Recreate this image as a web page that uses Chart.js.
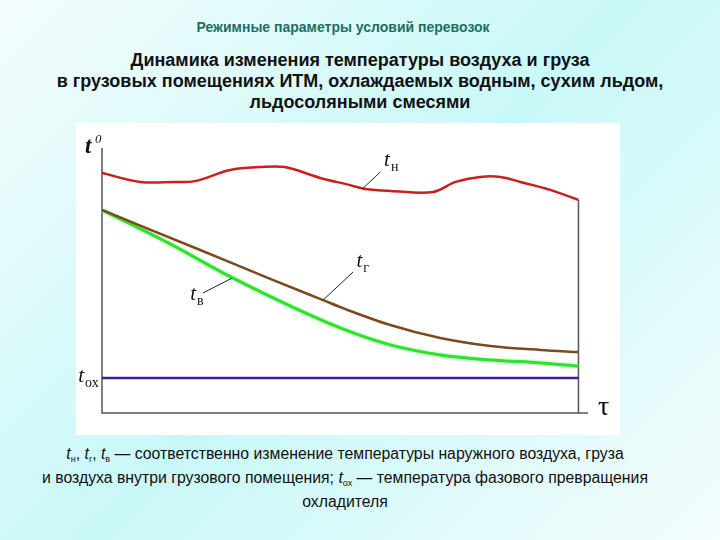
<!DOCTYPE html>
<html lang="ru">
<head>
<meta charset="utf-8">
<script src="https://cdn.jsdelivr.net/npm/chart.js@4.4.1/dist/chart.umd.min.js"></script>
<style>
  html, body { margin: 0; padding: 0; }
  body {
    width: 720px; height: 540px; position: relative; overflow: hidden;
    background: linear-gradient(135deg, #f5fdfd 0%, #c9f8f8 50%, #f5fdfd 100%);
    font-family: "Liberation Sans", Arial, sans-serif;
  }
  .txt { position: absolute; left: 0; width: 720px; text-align: center; white-space: nowrap; }
  #sub { top: 19px; left: -17px; font-size: 14px; font-weight: bold; color: #1d6f5f; }
  #title { top: 50px; font-size: 18px; font-weight: bold; color: #111; line-height: 21px; }
  #note { top: 442px; left: -15px; font-size: 15.8px; color: #111; line-height: 24px; }
  #note i { font-style: italic; }
  #note sub { font-size: 9px; vertical-align: -3px; line-height: 0; }
  #panel { position: absolute; left: 76px; top: 123px; width: 544px; height: 312px; background: #fff; }
</style>
</head>
<body>
<div class="txt" id="sub">Режимные параметры условий перевозок</div>
<div class="txt" id="title">Динамика изменения температуры воздуха и груза<br>в грузовых помещениях ИТМ, охлаждаемых водным, сухим льдом,<br>льдосоляными смесями</div>
<div id="panel"><canvas id="chart" width="544" height="312"></canvas></div>
<div class="txt" id="note"><i>t</i><sub>н</sub>, <i>t</i><sub>г</sub>, <i>t</i><sub>в</sub> — соответственно изменение температуры наружного воздуха, груза<br>и воздуха внутри грузового помещения; <i>t</i><sub>ох</sub> — температура фазового превращения<br>охладителя</div>
<script>
// time (tau) positions and temperatures
const tauN = [0, 8, 15.3, 19.5, 26.9, 33.2, 38.4, 45.8, 52.1, 55.3, 60.5, 69.5, 74.2, 79.4, 83.6, 87.8, 94.1, 100];
const tempN = [90.6, 87.2, 87.2, 87.5, 91.7, 92.8, 92.8, 88.7, 86.0, 84.5, 83.8, 83.4, 87.2, 89.1, 89.1, 87.2, 84.2, 80.4];

const tauG = [0, 20.6, 35.3, 46.4, 51.1, 60.5, 71, 81.5, 92, 100];
const tempG = [76.6, 61.5, 50.6, 42.6, 39.2, 33.2, 28.3, 25.3, 23.8, 23.0];

const tauV = [0, 14.3, 27.5, 50, 60.5, 71, 81.5, 92, 100];
const tempV = [76.6, 63.8, 50.9, 32.1, 25.7, 21.9, 20.0, 18.9, 17.7];

const tauOx = [0, 100];
const tempOx = [13.2, 13.2];

// right border of the process
const tauEnd = [100, 100];
const tempEnd = [80.4, 0];

// annotation labels: [tau, temp] of text, leader from/to
const labels = [
  { main: 't', sub: 'н', at: [59.2, 93.2], leader: [[54.6, 84.5], [58.4, 90.9]] },
  { main: 't', sub: 'г', at: [53.4, 55.1], leader: [[46.4, 42.6], [52.7, 53.2]] },
  { main: 't', sub: 'в', at: [18.5, 42.6], leader: [[27.3, 50.9], [21.2, 45.3]] },
  { main: 't', sub: 'ох', at: [-5.0, 11.7] },
];

const pts = (xs, ys) => xs.map((x, i) => ({ x, y: ys[i] }));

const axesPlugin = {
  id: 'axes',
  beforeDatasetsDraw(chart) {
    const { ctx, chartArea: a } = chart;
    ctx.save();
    ctx.strokeStyle = '#555';
    ctx.lineWidth = 1.5;
    ctx.beginPath();
    ctx.moveTo(a.left, a.top);
    ctx.lineTo(a.left, a.bottom);
    ctx.lineTo(a.right, a.bottom);
    ctx.stroke();
    ctx.restore();
  },
  beforeDatasetDraw(chart, args) {
    if (args.index === 2) {
      chart.ctx.save();
      chart.ctx.shadowColor = 'rgba(90, 240, 90, 0.7)';
      chart.ctx.shadowBlur = 3;
    }
  },
  afterDatasetDraw(chart, args) {
    if (args.index === 2) chart.ctx.restore();
  },
  afterDraw(chart) {
    const { ctx, chartArea: a } = chart;
    const sx = chart.scales.x;
    const sy = chart.scales.y;
    ctx.save();
    ctx.fillStyle = '#111';
    ctx.strokeStyle = '#222';
    ctx.lineWidth = 1;
    labels.forEach((l) => {
      if (l.leader) {
        ctx.beginPath();
        ctx.moveTo(sx.getPixelForValue(l.leader[0][0]), sy.getPixelForValue(l.leader[0][1]));
        ctx.lineTo(sx.getPixelForValue(l.leader[1][0]), sy.getPixelForValue(l.leader[1][1]));
        ctx.stroke();
      }
      const px = sx.getPixelForValue(l.at[0]);
      const py = sy.getPixelForValue(l.at[1]);
      ctx.font = 'italic 21px "Liberation Serif", serif';
      ctx.textBaseline = 'alphabetic';
      ctx.textAlign = 'left';
      ctx.fillText(l.main, px, py);
      const w = ctx.measureText(l.main).width;
      ctx.font = '14px "Liberation Serif", serif';
      ctx.fillText(l.sub, px + w + 1, py + 5);
    });
    // axis names
    ctx.font = 'bold italic 23px "Liberation Serif", serif';
    ctx.fillText('t', a.left - 17, a.top + 5);
    ctx.font = 'italic 13px "Liberation Serif", serif';
    ctx.fillText('0', a.left - 7, a.top - 5);
    ctx.font = '28px "Liberation Serif", serif';
    ctx.fillText('τ', a.right + 10, a.bottom + 2);
    ctx.restore();
  },
};

new Chart(document.getElementById('chart'), {
  type: 'line',
  data: {
    datasets: [
      {
        label: 'tн',
        data: pts(tauN, tempN),
        borderColor: '#c91f1f',
        borderWidth: 2.5,
        tension: 0.35,
      },
      {
        label: 'tг',
        data: pts(tauG, tempG),
        borderColor: '#7a4a20',
        borderWidth: 2.5,
        cubicInterpolationMode: 'monotone',
      },
      {
        label: 'tв',
        data: pts(tauV, tempV),
        borderColor: '#30e030',
        borderWidth: 3,
        cubicInterpolationMode: 'monotone',
      },
      {
        label: 'tох',
        data: pts(tauOx, tempOx),
        borderColor: '#3c1c9c',
        borderWidth: 2.5,
      },
      {
        label: 'end',
        data: pts(tauEnd, tempEnd),
        borderColor: '#555',
        borderWidth: 1.5,
      },
    ],
  },
  plugins: [axesPlugin],
  options: {
    responsive: false,
    animation: false,
    layout: { padding: { left: 26, right: 32, top: 25, bottom: 22 } },
    elements: { point: { radius: 0 } },
    plugins: {
      legend: { display: false },
      tooltip: { enabled: false },
    },
    scales: {
      x: { type: 'linear', min: 0, max: 102, display: false },
      y: { min: 0, max: 100, display: false },
    },
  },
});
</script>
</body>
</html>
